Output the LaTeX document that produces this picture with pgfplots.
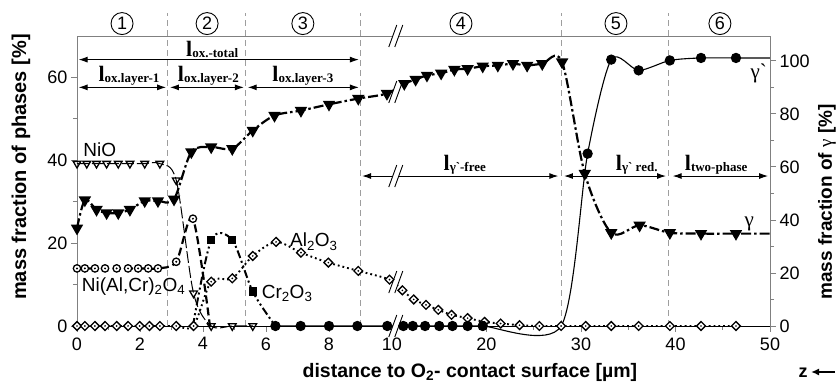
\documentclass[border=0pt]{standalone}
\usepackage{fontspec}
\setmainfont{Liberation Sans}
\newfontfamily\tms{Liberation Serif}
\usepackage{pgfplots}
\pgfplotsset{compat=1.18}
\usepackage{pgfplotstable}
\usetikzlibrary{arrows.meta}

\definecolor{axgray}{gray}{0.5}
\definecolor{dgray}{gray}{0.62}
\newcommand{\fs}[1]{\fontsize{#1}{#1}\selectfont}
\newcommand{\lab}[1]{{\tms\bfseries\fs{22}l}{\tms\bfseries\fs{13}\raisebox{-1.5pt}{#1}}}

\pgfdeclareplotmark{odot}{%
  \pgfpathcircle{\pgfpointorigin}{\pgfplotmarksize}%
  \pgfusepathqfillstroke
  \begin{pgfscope}%
  \pgfsetfillcolor{black}%
  \pgfpathcircle{\pgfpointorigin}{0.3\pgfplotmarksize}%
  \pgfusepathqfill
  \end{pgfscope}}
\pgfdeclareplotmark{ddot}{%
  \pgfpathmoveto{\pgfqpoint{0pt}{\pgfplotmarksize}}%
  \pgfpathlineto{\pgfqpoint{\pgfplotmarksize}{0pt}}%
  \pgfpathlineto{\pgfqpoint{0pt}{-\pgfplotmarksize}}%
  \pgfpathlineto{\pgfqpoint{-\pgfplotmarksize}{0pt}}%
  \pgfpathclose
  \pgfusepathqfillstroke
  \begin{pgfscope}%
  \pgfsetfillcolor{black}%
  \pgfpathcircle{\pgfpointorigin}{0.22\pgfplotmarksize}%
  \pgfusepathqfill
  \end{pgfscope}}

\pgfplotstableread{
x y
0 39.2
0.31 39.2
0.62 39.2
0.94 39.2
1.31 39.2
1.68 39.2
2.15 39.2
2.63 39.2
3.15 35.2
3.70 7.9
4.26 0
4.93 0
5.58 0
}\NiO

\pgfplotstableread{
x y
0 23.6
0.25 30.4
0.62 28.1
0.94 27.3
1.31 27.3
1.68 28.1
2.15 30.2
2.57 30.2
3.08 30.6
3.63 42.0
4.26 43.2
4.93 42.8
5.58 47.2
6.27 50.8
7.11 52.0
8.00 53.5
8.93 54.9
9.84 56.1
11.3 58.5
12.5 59.5
13.7 60.5
15.2 61.0
16.6 61.9
18.0 62.1
19.6 62.7
21.2 62.9
22.8 63.3
24.3 62.9
25.9 63.3
28.0 63.7
30.4 36.8
33.2 22.5
36.2 24.3
39.4 22.5
42.7 22.3
46.4 22.3
50 22.3
}\Gam

\pgfplotstableread{
x y
0 13.9
0.25 13.9
0.57 13.9
0.89 13.9
1.26 13.9
1.62 13.9
1.94 13.9
2.26 13.9
2.57 13.9
3.15 15.5
3.68 25.9
4.22 0
}\Spinel

\pgfplotstableread{
x y
3.68 0
4.26 20.7
4.93 20.7
5.58 8.3
6.30 0
}\Cr

\pgfplotstableread{
x y
0 0
0.25 0
0.57 0
0.89 0
1.26 0
1.62 0
1.99 0
2.30 0
2.63 0
3.15 0
3.70 0
4.26 10.7
4.93 11.5
5.58 16.9
6.32 20.3
7.11 17.7
7.98 15.3
8.93 13.3
9.92 11.2
11.1 8.6
12.3 6.4
13.6 5.1
14.9 3.9
16.3 2.7
18.0 1.9
19.8 1.0
21.5 0.6
23.5 0.2
25.6 0
27.9 0
30.5 0
33.2 0
36.1 0
39.4 0
42.7 0
46.4 0
}\Al

\pgfplotstableread{
x y
6.30 0
7.10 0
8.00 0
8.90 0
9.85 0
11.2 0
12.2 0
13.5 0
15.0 0
16.4 0
18.0 0
19.6 0
27.9 0
30.7 41.6
33.2 64.3
36.1 61.7
39.4 64.1
42.7 64.7
46.4 64.7
50 64.7
}\GamP

\newcommand{\brk}[1]{%
  \fill[white] ([shift={(-7pt,-11pt)}]axis cs:10.4,#1) -- ([shift={(-1pt,-11pt)}]axis cs:10.4,#1) -- ([shift={(7pt,11pt)}]axis cs:10.4,#1) -- ([shift={(1pt,11pt)}]axis cs:10.4,#1) -- cycle;
  \draw[line width=0.9pt] ([shift={(-7pt,-11pt)}]axis cs:10.4,#1) -- ([shift={(1pt,11pt)}]axis cs:10.4,#1);
  \draw[line width=0.9pt] ([shift={(-1pt,-11pt)}]axis cs:10.4,#1) -- ([shift={(7pt,11pt)}]axis cs:10.4,#1);}

\tikzset{dbl/.style={{Latex[length=9pt,width=6pt]}-{Latex[length=9pt,width=6pt]}, line width=1pt}}

\begin{document}
\begin{tikzpicture}
\begin{axis}[name=ax,
  scale only axis, width=693pt, height=290pt,
  xmin=0, xmax=50, ymin=0, ymax=70,
  x coord trafo/.code={\pgfmathparse{(#1>10)?(10+(#1-10)*0.3):(#1)}},
  xtick={0,2,4,6,8,10,20,30,40,50},
  xticklabels={0,2,4,6,8,10,20,30,40,50},
  minor xtick={1,3,5,7,9,15,25,35,45},
  ytick={0,20,40,60}, minor ytick={10,30,50},
  xtick pos=bottom, ytick pos=left,
  tick align=outside,
  major tick length=6pt, minor tick length=4pt,
  axis line style={axgray, line width=0.9pt},
  tick style={axgray, line width=0.9pt},
  tick label style={font=\fs{18}},
  xticklabel style={yshift=-2pt},
  /pgf/number format/assume math mode=true,
  clip=false,
]
% region separators
\foreach \xx in {2.88,5.35,9.0,27.9,39.3}{
  \edef\tmp{\noexpand\draw[dgray, line width=0.8pt, dash pattern=on 6pt off 4pt] (axis cs:\xx,0) -- (axis cs:\xx,75.5);}\tmp
}
% zero baseline
\addplot[black, line width=0.9pt] coordinates {(0,0) (50,0)};
% Al2O3
\addplot[black, line width=1.9pt, dash pattern=on 1.8pt off 3pt, smooth,
  mark=ddot, mark size=4.4pt, mark options={solid, fill=white, line width=1.3pt}] table {\Al};
% NiO
\addplot[black, line width=1pt, dash pattern=on 12pt off 3pt, smooth,
  mark=triangle, mark size=4.4pt, mark options={solid, rotate=180, fill=white, line width=1.3pt}] table {\NiO};
% spinel
\addplot[black, line width=2.2pt, dash pattern=on 8pt off 4pt, smooth,
  mark=odot, mark size=3.7pt, mark indices={1,2,3,4,5,6,7,8,9,10,11},
  mark options={solid, fill=white, line width=1.3pt}] table {\Spinel};
% Cr2O3
\addplot[black, line width=2pt, dash pattern=on 8pt off 3pt on 2pt off 3pt on 2pt off 3pt, smooth,
  mark=square*, mark size=3.2pt, mark indices={2,3,4},
  mark options={solid, fill=black}] table {\Cr};
% gamma
\addplot[black, line width=2.2pt, dash pattern=on 10pt off 3pt on 2.5pt off 3pt, smooth,
  mark=triangle*, mark size=5pt,
  mark indices={1,2,3,4,5,6,7,8,9,10,11,12,13,14,15,16,17,18,19,20,21,22,23,24,25,26,27,28,29,30,31,32,33,34,35,36},
  mark options={solid, rotate=180, fill=black}] table {\Gam};
% gamma prime
\addplot[black, line width=1.1pt, smooth, tension=0.45,
  mark=*, mark size=4.6pt,
  mark indices={1,2,3,4,5,6,7,8,9,10,11,12,14,15,16,17,18,19},
  mark options={solid, fill=black}] table {\GamP};

% length arrows
\draw[dbl] (axis cs:0.05,64.3) -- (axis cs:8.95,64.3);
\draw[dbl] (axis cs:0.05,57.6) -- (axis cs:2.83,57.6);
\draw[dbl] (axis cs:2.95,57.6) -- (axis cs:5.30,57.6);
\draw[dbl] (axis cs:5.42,57.6) -- (axis cs:8.95,57.6);
\draw[dbl] (axis cs:9.05,36.2) -- (axis cs:27.6,36.2);
\draw[dbl] (axis cs:28.2,36.2) -- (axis cs:39.0,36.2);
\draw[dbl] (axis cs:39.7,36.2) -- (axis cs:49.8,36.2);
\node[anchor=south, inner sep=1.5pt] at (axis cs:4.29,64.3) {\lab{ox.-total}};
\node[anchor=south, inner sep=1.5pt] at (axis cs:1.65,57.6) {\lab{ox.layer-1}};
\node[anchor=south, inner sep=1.5pt] at (axis cs:4.17,57.6) {\lab{ox.layer-2}};
\node[anchor=south, inner sep=1.5pt] at (axis cs:7.17,57.6) {\lab{ox.layer-3}};
\node[anchor=south, inner sep=1.5pt] at (axis cs:17.7,36.2) {\lab{γ`-free}};
\node[anchor=south, inner sep=1.5pt] at (axis cs:35.9,36.2) {\lab{γ` red.}};
\node[anchor=south, inner sep=1.5pt] at (axis cs:44.3,36.2) {\lab{two-phase}};

% break marks
\brk{70}
\brk{56.5}
\brk{36.2}
\brk{10.6}
\brk{0}

% region numbers
\foreach \xx/\nn in {1.43/1,4.13/2,7.17/3,17.3/4,33.7/5,44.7/6}{
  \edef\tmp{\noexpand\node[circle, draw, line width=0.9pt, inner sep=0pt, minimum size=22pt, font=\noexpand\fs{18}] at (axis cs:\xx,73.0) {\nn};}\tmp
}

% phase labels
\node[anchor=base west, inner sep=0pt, font=\fs{19}] at (axis cs:0.2,41) {NiO};
\node[anchor=base west, inner sep=0pt, font=\fs{19}] at (axis cs:0.15,8.3) {Ni(Al,Cr)\textsubscript{2}O\textsubscript{4}};
\node[anchor=base west, inner sep=0pt, font=\fs{19}] at (axis cs:6.76,19.1) {Al\textsubscript{2}O\textsubscript{3}};
\node[anchor=base west, inner sep=0pt, font=\fs{19}] at (axis cs:5.86,6.7) {Cr\textsubscript{2}O\textsubscript{3}};
\node[anchor=north east, inner sep=1pt, font=\tms\fs{21}] at (axis cs:49.8,63.6) {γ`};
\node[anchor=south, inner sep=1pt, font=\tms\fs{21}] at (axis cs:47.8,22.6) {γ};

% axis labels
\node[rotate=90, font=\bfseries\fs{20}] at ([xshift=-56pt]rel axis cs:0,0.548) {mass fraction of phases [\%]};
\node[font=\bfseries\fs{19.5}] at ([yshift=-46pt]rel axis cs:0.567,0) {distance to O\textsubscript{2}- contact surface [µm]};
\node[font=\bfseries\fs{18}] at ([shift={(33pt,-47pt)}]rel axis cs:1,0) {z};
\draw[-{Latex[length=8pt,width=7pt]}, line width=2pt] ([shift={(65pt,-46pt)}]rel axis cs:1,0) -- ([shift={(41pt,-46pt)}]rel axis cs:1,0);
\end{axis}

\begin{axis}[
  scale only axis, width=693pt, height=290pt,
  xmin=0, xmax=1, ymin=0, ymax=109.4,
  axis x line=none, axis y line*=right,
  ytick={0,20,40,60,80,100}, minor ytick={10,30,50,70,90},
  tick align=outside,
  major tick length=6pt, minor tick length=4pt,
  axis line style={axgray, line width=0.9pt},
  tick style={axgray, line width=0.9pt},
  tick label style={font=\fs{18}},
  /pgf/number format/assume math mode=true,
  clip=false,
]
\addplot[draw=none] coordinates {(0,0) (1,1)};
\node[rotate=90, font=\bfseries\fs{19}] at ([xshift=57pt]rel axis cs:1,0.428) {mass fraction of {\tms\mdseries γ} [\%]};
\end{axis}
\pgfresetboundingbox
\path ([shift={(-77pt,-63pt)}]ax.south west) rectangle ([shift={(68pt,36pt)}]ax.north east);
\end{tikzpicture}
\end{document}
